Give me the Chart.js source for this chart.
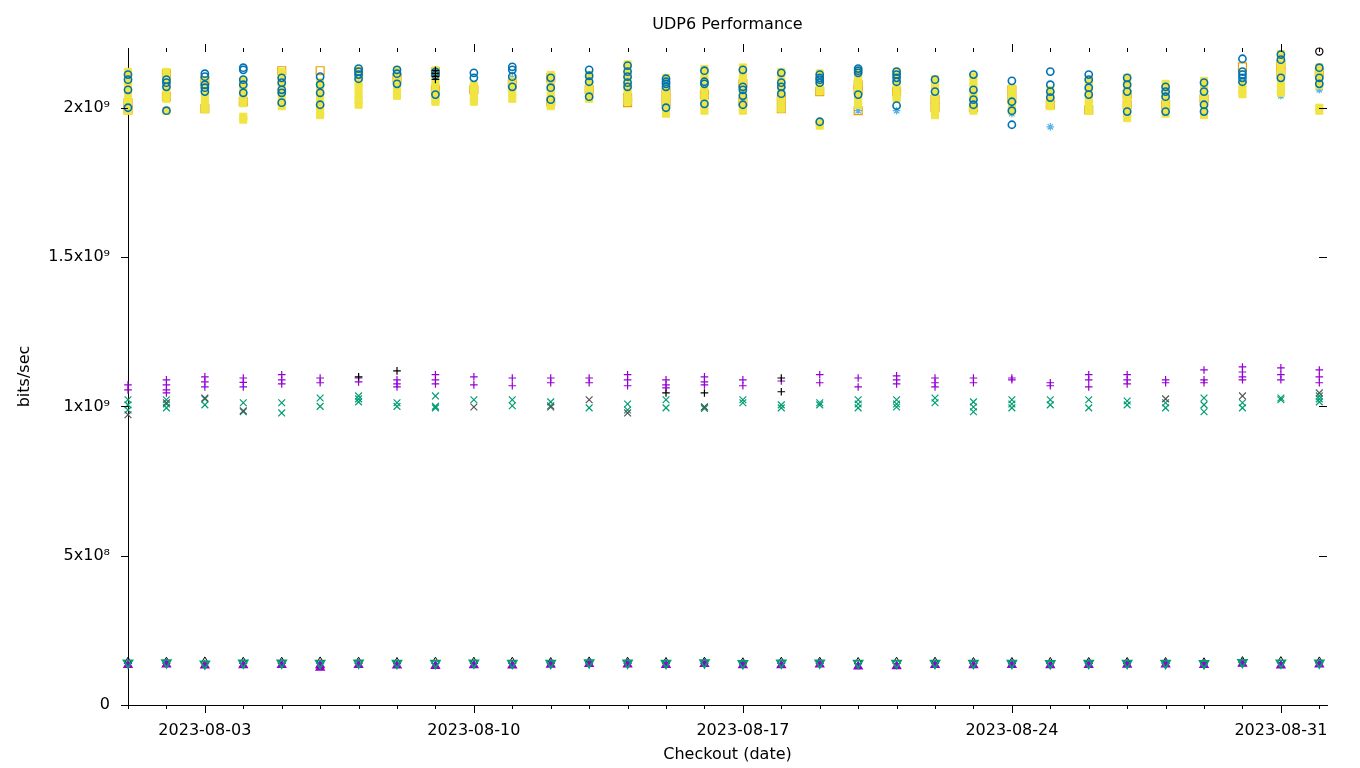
<!DOCTYPE html>
<html><head><meta charset="utf-8">
<script src="https://cdn.jsdelivr.net/npm/chart.js@4.4.0/dist/chart.umd.min.js"></script>
<style>html,body{margin:0;padding:0;background:#fff;overflow:hidden}</style>
</head><body>
<canvas id="c" width="1360" height="768"></canvas>
<script>
const dates = ['2023-08-01','2023-08-02','2023-08-03','2023-08-04','2023-08-05','2023-08-06','2023-08-07','2023-08-08',
 '2023-08-09','2023-08-10','2023-08-11','2023-08-12','2023-08-13','2023-08-14','2023-08-15','2023-08-16',
 '2023-08-17','2023-08-18','2023-08-19','2023-08-20','2023-08-21','2023-08-22','2023-08-23','2023-08-24',
 '2023-08-25','2023-08-26','2023-08-27','2023-08-28','2023-08-29','2023-08-30','2023-08-31','2023-09-01'];
const majorTickDates = ['2023-08-03','2023-08-10','2023-08-17','2023-08-24','2023-08-31'];
const xAxisEndDays = 31.2;
const yTickValues = [0, 5e8, 1e9, 1.5e9, 2e9];
const yTickLabels = ['0', '5x10\u2078', '1x10\u2079', '1.5x10\u2079', '2x10\u2079'];
const yAxisMax = 2.2e9;

// one inner list of measured values per date
const yellowSquare = [
 [2.12e9,2.10e9,2.08e9,2.06e9,2.04e9,2.02e9,2.00e9,1.99e9],
 [2.12e9,2.10e9,2.08e9,2.06e9,2.04e9,2.03e9,1.99e9],
 [2.09e9,2.07e9,2.05e9,2.03e9,2.01e9,1.995e9],
 [2.09e9,2.07e9,2.05e9,2.03e9,2.015e9,1.97e9,1.96e9],
 [2.12e9,2.10e9,2.08e9,2.06e9,2.04e9,2.02e9,2.005e9],
 [2.085e9,2.065e9,2.045e9,2.025e9,2.005e9,1.985e9,1.975e9],
 [2.125e9,2.105e9,2.085e9,2.065e9,2.045e9,2.025e9,2.01e9],
 [2.125e9,2.105e9,2.085e9,2.065e9,2.045e9,2.04e9],
 [2.125e9,2.105e9,2.085e9,2.065e9,2.045e9,2.025e9,2.02e9],
 [2.075e9,2.055e9,2.035e9,2.02e9],
 [2.09e9,2.07e9,2.05e9,2.03e9],
 [2.11e9,2.09e9,2.07e9,2.05e9,2.03e9,2.01e9,2.005e9],
 [2.11e9,2.09e9,2.07e9,2.05e9,2.03e9],
 [2.145e9,2.125e9,2.105e9,2.085e9,2.065e9,2.045e9,2.025e9,2.02e9],
 [2.10e9,2.08e9,2.06e9,2.04e9,2.02e9,2.00e9,1.98e9],
 [2.13e9,2.11e9,2.09e9,2.07e9,2.05e9,2.03e9,2.01e9,1.99e9],
 [2.135e9,2.115e9,2.095e9,2.075e9,2.055e9,2.035e9,2.015e9,1.995e9,1.99e9],
 [2.12e9,2.10e9,2.08e9,2.06e9,2.04e9,2.02e9,1.997e9],
 [2.115e9,2.095e9,2.075e9,2.055e9,1.95e9,1.94e9],
 [2.125e9,2.105e9,2.085e9,2.065e9,2.045e9,2.025e9,2.01e9],
 [2.12e9,2.10e9,2.08e9,2.06e9,2.04e9,2.03e9],
 [2.095e9,2.075e9,2.055e9,2.035e9,2.015e9,1.995e9,1.975e9],
 [2.105e9,2.085e9,2.065e9,2.045e9,2.025e9,2.005e9,1.99e9],
 [2.065e9,2.045e9,2.025e9,2.005e9,1.99e9],
 [2.06e9,2.04e9,2.02e9,2.005e9],
 [2.09e9,2.07e9,2.05e9,2.03e9,2.01e9,1.99e9],
 [2.10e9,2.08e9,2.06e9,2.04e9,2.02e9,2.00e9,1.98e9,1.965e9],
 [2.08e9,2.06e9,2.04e9,2.02e9,2.00e9,1.98e9],
 [2.09e9,2.07e9,2.05e9,2.03e9,2.01e9,1.99e9,1.975e9],
 [2.08e9,2.06e9,2.045e9],
 [2.18e9,2.16e9,2.14e9,2.12e9,2.10e9,2.08e9,2.06e9,2.05e9],
 [2.135e9,2.115e9,2.095e9,2.075e9,2.00e9,1.99e9]
];
const blueCircle = [
 [2.111e9,2.094e9,2.06e9,2.0e9],[2.094e9,2.084e9,2.07e9,1.99e9],[2.114e9,2.104e9,2.077e9,2.067e9,2.054e9],
 [2.134e9,2.127e9,2.094e9,2.077e9,2.05e9],[2.10e9,2.084e9,2.06e9,2.05e9,2.017e9],[2.104e9,2.077e9,2.05e9,2.01e9],
 [2.131e9,2.121e9,2.111e9,2.097e9],[2.127e9,2.114e9,2.08e9],[2.12e9,2.11e9,2.044e9],[2.117e9,2.10e9],
 [2.137e9,2.127e9,2.104e9,2.07e9],[2.10e9,2.067e9,2.027e9],[2.127e9,2.107e9,2.087e9,2.037e9],
 [2.141e9,2.121e9,2.104e9,2.084e9,2.07e9],[2.097e9,2.087e9,2.08e9,2.07e9,2.0e9],[2.124e9,2.087e9,2.08e9,2.013e9],
 [2.127e9,2.07e9,2.06e9,2.04e9,2.01e9],[2.117e9,2.084e9,2.07e9,2.047e9],[2.111e9,2.10e9,2.094e9,2.084e9,1.953e9],
 [2.131e9,2.124e9,2.117e9,2.044e9],[2.121e9,2.111e9,2.10e9,2.087e9,2.007e9],[2.094e9,2.054e9],
 [2.111e9,2.06e9,2.027e9,2.01e9],[2.09e9,2.02e9,1.99e9,1.943e9],[2.121e9,2.077e9,2.054e9,2.034e9],
 [2.111e9,2.094e9,2.067e9,2.044e9],[2.10e9,2.077e9,2.054e9,1.987e9],[2.07e9,2.054e9,2.037e9,1.987e9],
 [2.084e9,2.054e9,2.01e9,1.987e9],[2.164e9,2.121e9,2.111e9,2.10e9,2.087e9],[2.178e9,2.161e9,2.10e9],
 [2.134e9,2.10e9,2.08e9]
];
const orangeSquare = [
 [2.017e9,1.993e9],[2.114e9,2.037e9],[2.09e9,1.997e9],[2.02e9],[2.124e9],[2.124e9],[2.12e9],[2.10e9],
 [2.12e9,2.06e9],[2.06e9],[2.08e9],[2.10e9,2.02e9],[2.06e9],[2.034e9,2.017e9],[2.05e9,2.02e9],[2.044e9],
 [2.08e9,2.02e9],[2.027e9,1.997e9],[2.054e9],[2.077e9,2.06e9,1.99e9],[2.054e9],[2.027e9,2.0e9],[2.0e9],
 [2.06e9,2.03e9],[2.01e9],[1.993e9],[2.044e9,2.01e9],[2.01e9],[2.03e9],[2.137e9],[2.144e9,2.12e9],[2.117e9]
];
const lightBlueStar = [
 [2.0e9],[2.114e9,2.044e9],[2.08e9],[2.02e9],[2.05e9],[2.06e9],[2.12e9],[2.10e9],[2.08e9],[2.067e9],
 [2.10e9],[2.06e9],[2.08e9],[2.10e9],[2.047e9,2.023e9],[2.044e9],[2.087e9],[1.997e9],[2.06e9],[1.99e9],
 [2.054e9,1.99e9],[1.983e9],[2.03e9],[2.0e9,1.98e9],[2.02e9,1.936e9],[2.027e9,2.0e9],[2.02e9],[2.007e9],
 [2.034e9],[2.09e9],[2.077e9,2.04e9],[2.06e9]
];
const blackCircle = [[],[],[],[],[],[],[],[],[],[],[],[],[],[],[],[],[],[],[],[],[],[],[],[],[],[],[],[],[],[],[],[2.188e9]];
const purplePlus = [
 [1.072e9,1.055e9],[1.089e9,1.072e9,1.055e9,1.045e9],[1.099e9,1.082e9,1.065e9],[1.095e9,1.08e9,1.065e9],
 [1.106e9,1.089e9,1.075e9],[1.095e9,1.079e9],[1.095e9,1.082e9],[1.089e9,1.075e9,1.065e9],
 [1.106e9,1.089e9,1.075e9],[1.099e9,1.072e9],[1.095e9,1.069e9],[1.095e9,1.079e9],[1.095e9,1.079e9],
 [1.106e9,1.089e9,1.069e9],[1.089e9,1.072e9,1.062e9],[1.099e9,1.082e9,1.072e9],[1.089e9,1.069e9],[1.085e9],
 [1.106e9,1.079e9],[1.095e9,1.065e9],[1.102e9,1.089e9,1.075e9],[1.095e9,1.079e9,1.065e9],[1.095e9,1.079e9],
 [1.095e9,1.089e9],[1.079e9,1.069e9],[1.106e9,1.089e9,1.065e9],[1.106e9,1.089e9,1.075e9],[1.089e9,1.079e9],
 [1.122e9,1.089e9,1.079e9],[1.132e9,1.115e9,1.099e9,1.089e9],[1.129e9,1.106e9,1.089e9],[1.122e9,1.099e9,1.079e9]
];
const greenX = [
 [1.022e9,1.005e9,0.988e9],[1.022e9,1.008e9,0.995e9],[1.025e9,1.005e9],[1.012e9,0.982e9],[1.012e9,0.978e9],
 [1.028e9,1.0e9],[1.035e9,1.025e9,1.015e9],[1.012e9,1.0e9],[1.035e9,1.0e9,0.995e9],[1.022e9],[1.022e9,1.002e9],
 [1.015e9,1.002e9],[0.995e9],[1.008e9,0.988e9],[1.022e9,0.995e9],[0.998e9,0.993e9],[1.022e9,1.012e9],
 [1.005e9,0.995e9],[1.012e9,1.005e9],[1.022e9,1.008e9,0.995e9],[1.022e9,1.008e9,0.998e9],[1.028e9,1.012e9],
 [1.015e9,0.998e9,0.982e9],[1.022e9,1.008e9,0.995e9],[1.022e9,1.005e9],[1.022e9,0.995e9],[1.018e9,1.005e9],
 [1.012e9,0.995e9],[1.028e9,1.005e9,0.982e9],[1.012e9,0.995e9],[1.028e9,1.022e9],[1.035e9,1.025e9,1.015e9]
];
const blackX = [
 [0.972e9],[1.012e9],[1.028e9],[0.985e9],[],[],[],[],[],[0.998e9],[],[0.998e9],[1.022e9],[0.978e9],[],[0.998e9],
 [],[],[],[],[],[],[],[],[],[],[],[1.025e9],[],[1.035e9],[],[1.045e9]
];
const blackPlus = [
 [],[],[],[],[],[],[1.099e9],[1.119e9],[2.125e9,2.115e9,2.105e9,2.095e9],[],[],[],[],[],[1.045e9],[1.045e9],
 [],[1.095e9,1.049e9],[],[],[],[],[],[],[],[],[],[],[],[],[],[]
];
const blackTriangleUp = [
 [1.46e8],[1.46e8],[1.47e8],[1.46e8],[1.46e8],[1.47e8],[1.46e8],[1.45e8],[1.46e8],[1.46e8],[1.46e8],[1.45e8],
 [1.47e8],[1.46e8],[1.45e8],[1.46e8],[1.44e8],[1.46e8],[1.46e8],[1.45e8],[1.46e8],[1.46e8],[1.45e8],[1.45e8],
 [1.45e8],[1.45e8],[1.45e8],[1.45e8],[1.44e8],[1.48e8],[1.48e8],[1.47e8]
];
const purpleTriangleUp = [
 [1.34e8],[1.36e8],[1.32e8],[1.33e8],[1.34e8],[1.33e8,1.25e8],[1.34e8],[1.32e8],[1.31e8],[1.33e8],[1.32e8],[1.35e8],
 [1.37e8],[1.36e8],[1.34e8],[1.37e8],[1.33e8],[1.33e8],[1.36e8],[1.29e8],[1.30e8],[1.34e8],[1.33e8],[1.34e8],
 [1.33e8],[1.34e8],[1.35e8],[1.36e8],[1.34e8],[1.38e8],[1.32e8],[1.36e8]
];
const greenTriangleDown = [
 [1.41e8],[1.42e8],[1.38e8],[1.41e8],[1.41e8],[1.40e8],[1.41e8],[1.40e8],[1.40e8],[1.41e8],[1.40e8],[1.40e8],
 [1.42e8],[1.41e8],[1.40e8],[1.42e8],[1.39e8],[1.41e8],[1.41e8],[1.40e8],[1.40e8],[1.40e8],[1.40e8],[1.40e8],
 [1.39e8],[1.40e8],[1.40e8],[1.40e8],[1.39e8],[1.43e8],[1.41e8],[1.41e8]
];
const redDot = [
 [],[],[],[],[1.33e8],[],[],[],[],[],[],[],[],[],[],[],[1.36e8],[],[],[],[],[],[],[],[],[],[],[],[],[],[],[]
];

const DAY_MS = 86400000;
const dayIndex = d => (Date.parse(d) - Date.parse(dates[0])) / DAY_MS;
const toPoints = perDay => dates.flatMap((d, i) => (perDay[i] || []).map(v => ({x: dayIndex(d), y: v})));

const seriesDefs = [
 {label:'purple +', values: purplePlus, style:'cross', color:'#9400d3', r:3.8},
 {label:'green x', values: greenX, style:'crossRot', color:'#009e73', r:4.8},
 {label:'lightblue *', values: lightBlueStar, style:'star', color:'#56b4e9', r:3.8},
 {label:'orange square', values: orangeSquare, style:'rect', color:'#e69f00', r:5.6},
 {label:'yellow square', values: yellowSquare, style:'rect', color:'#f0e442', r:5, filled:true, bw:1},
 {label:'blue circle', values: blueCircle, style:'circle', color:'#0072b2', r:3.6, bw:1.6},
 {label:'red dot', values: redDot, style:'circle', color:'#e51e10', r:2, filled:true},
 {label:'black triangle', values: blackTriangleUp, style:'triangle', color:'#000000', r:4.2, bw:1},
 {label:'purple triangle', values: purpleTriangleUp, style:'triangle', color:'#9400d3', r:4.8, filled:true},
 {label:'green triangle down', values: greenTriangleDown, style:'triangle', color:'#009e73', r:5, rot:180, bw:1.8},
 {label:'black +', values: blackPlus, style:'cross', color:'#000000', r:3.8},
 {label:'black x', values: blackX, style:'crossRot', color:'#555555', r:4.8},
 {label:'black circle', values: blackCircle, style:'circle', color:'#000000', r:3.6}
];

const datasets = seriesDefs.map((s, i) => ({
  label: s.label,
  data: toPoints(s.values),
  pointStyle: s.style,
  pointRadius: s.r,
  pointRotation: s.rot || 0,
  pointBorderColor: s.color,
  pointBackgroundColor: s.filled ? s.color : 'rgba(0,0,0,0)',
  pointBorderWidth: s.bw || 1.2,
  showLine: false,
  clip: false,
  order: -i
}));

const tickMarks = {
  id: 'tickMarks',
  afterDatasetsDraw(chart) {
    const {ctx, chartArea: a, scales: {x, y}} = chart;
    const majors = majorTickDates.map(dayIndex);
    ctx.save();
    ctx.strokeStyle = '#000';
    ctx.lineWidth = 1;
    ctx.beginPath();
    dates.forEach(d => {
      const v = dayIndex(d);
      const px = Math.round(x.getPixelForValue(v)) + 0.5;
      const major = majors.includes(v);
      ctx.moveTo(px, a.bottom); ctx.lineTo(px, a.bottom + (major ? 8 : 4));
      ctx.moveTo(px, a.top + 4); ctx.lineTo(px, a.top - (major ? 4 : 0));
    });
    yTickValues.forEach(v => {
      const py = Math.round(y.getPixelForValue(v)) + 0.5;
      ctx.moveTo(a.left - 7, py); ctx.lineTo(a.left, py);
      ctx.moveTo(a.right - 8, py); ctx.lineTo(a.right, py);
    });
    ctx.stroke();
    ctx.restore();
  }
};

Chart.defaults.font.family = "'DejaVu Sans', sans-serif";
Chart.defaults.font.size = 16;
Chart.defaults.color = '#000';

new Chart(document.getElementById('c'), {
  type: 'scatter',
  data: { datasets },
  plugins: [tickMarks],
  options: {
    responsive: false,
    animation: false,
    layout: { padding: { left: 0, right: 33, top: 0, bottom: 0 } },
    plugins: {
      legend: { display: false },
      tooltip: { enabled: false },
      title: { display: true, fullSize: false, text: 'UDP6 Performance', font: { size: 16, weight: 'normal' }, color: '#000',
               padding: { top: 15, bottom: 13.8 } }
    },
    scales: {
      x: {
        type: 'linear', min: 0, max: xAxisEndDays,
        afterBuildTicks: s => { s.ticks = majorTickDates.map(d => ({ value: dayIndex(d) })); },
        afterFit: s => { s.height = 63; },
        ticks: { callback: (v, i) => majorTickDates[i], padding: 16, maxRotation: 0, autoSkip: false },
        grid: { display: false, drawTicks: false },
        border: { display: true, color: '#000', width: 1 },
        title: { display: true, text: 'Checkout (date)', font: { size: 16 }, padding: { top: 0, bottom: 4 } }
      },
      y: {
        type: 'linear', min: 0, max: yAxisMax,
        afterBuildTicks: s => { s.ticks = yTickValues.map(v => ({ value: v })); },
        afterFit: s => { s.width = 128; },
        ticks: { callback: (v, i) => yTickLabels[i], padding: 18 },
        grid: { display: false, drawTicks: false },
        border: { display: true, color: '#000', width: 1 },
        title: { display: true, text: 'bits/sec', font: { size: 16 }, padding: { top: 15, bottom: 0 } }
      }
    }
  }
});
</script>
</body></html>
